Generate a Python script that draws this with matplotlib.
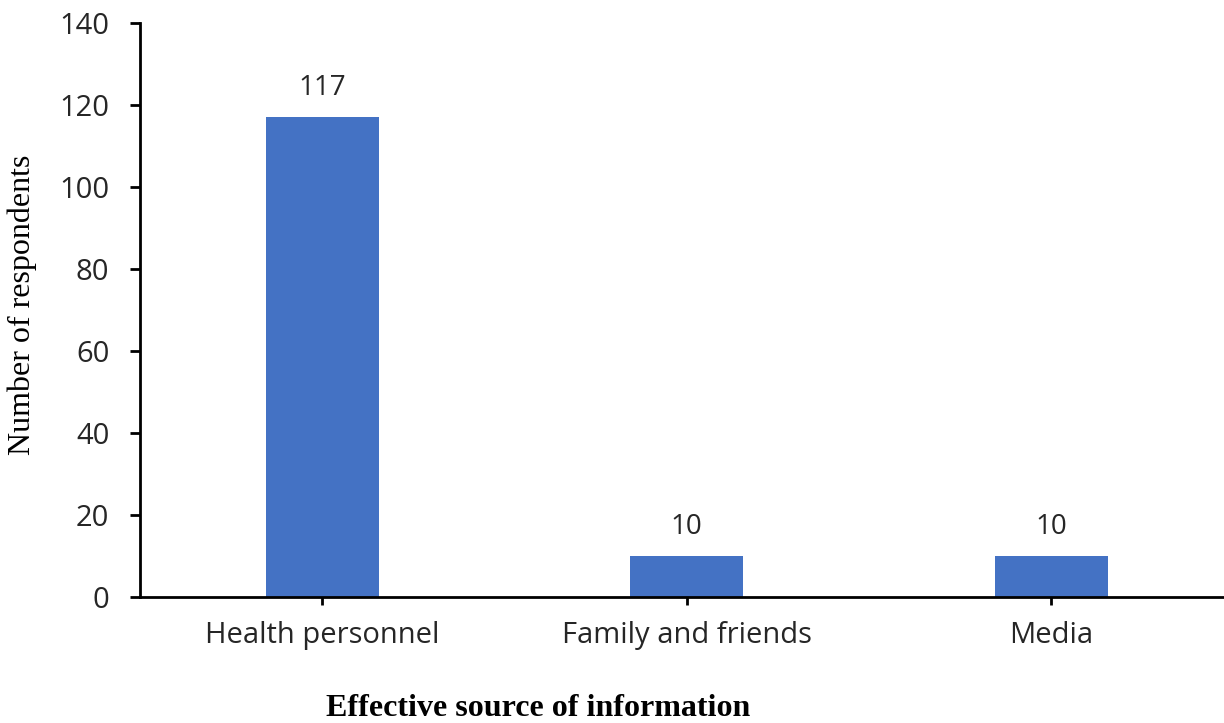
import matplotlib.pyplot as plt
import numpy as np

##data
categories = ['Health personnel', 'Family and friends', 'Media']
respondents = [117, 10, 10]
yticks = [0, 20, 40, 60, 80, 100, 120, 140]

W, H = 1224, 723
fig = plt.figure(figsize=(W/100, H/100), dpi=100)
fig.patch.set_facecolor('#FFFFFF')

# axes runs off the right edge like in the original
ax = fig.add_axes([140/W, (H-597)/H, 1093.5/W, 574/H])

x = np.arange(len(categories))
bars = ax.bar(x, respondents, width=0.31, color='#4472C4')

for xi, v in zip(x, respondents):
    ax.annotate(str(v), (xi, v), xytext=(0, 21), textcoords='offset points',
                ha='center', va='center', fontsize=20, family='Open Sans', color='#262626')

ax.set_xlim(-0.5, 2.5)
ax.set_ylim(0, 140)
ax.set_yticks(yticks)
ax.set_xticks(x)
ax.set_xticklabels(categories, fontsize=21, family='Open Sans', color='#262626')
ax.set_yticklabels([str(t) for t in yticks], fontsize=21, family='Open Sans', color='#262626')

for s in ['top', 'right']:
    ax.spines[s].set_visible(False)
for s in ['left', 'bottom']:
    ax.spines[s].set_linewidth(2)
    ax.spines[s].set_color('black')
ax.tick_params(axis='y', length=7, width=2, pad=15)
ax.tick_params(axis='x', length=6, width=2, pad=11)

fig.text(22/W, 1-305/H, 'Number of respondents', rotation=90, ha='center', va='center',
         fontsize=23, family='Liberation Serif')
fig.text(538/W, 1-708/H, 'Effective source of information', ha='center', va='center',
         fontsize=23, family='Liberation Serif', fontweight='bold')

plt.savefig('out.png', dpi=100)
